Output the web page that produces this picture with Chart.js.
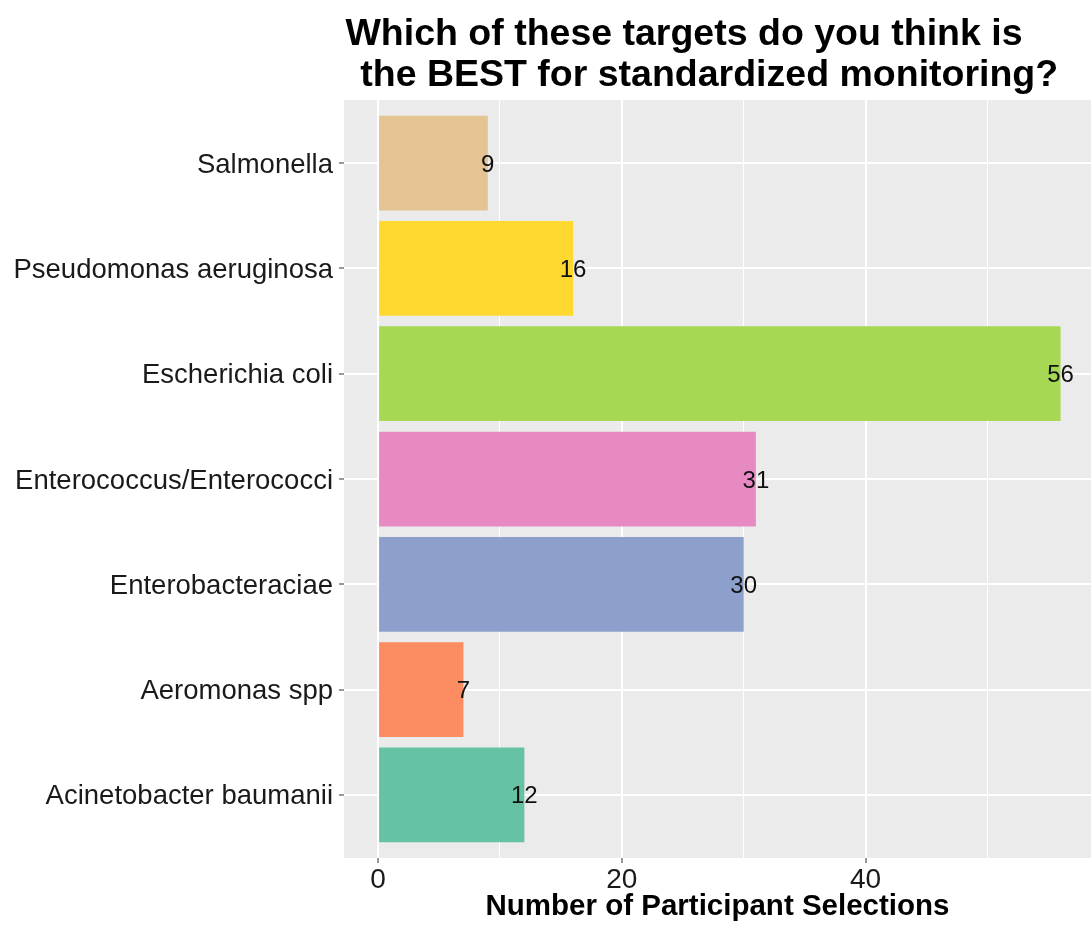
<!DOCTYPE html>
<html>
<head>
<meta charset="utf-8">
<script src="https://cdn.jsdelivr.net/npm/chart.js@4.4.0/dist/chart.umd.min.js"></script>
<style>
  html, body { margin: 0; padding: 0; background: #fff; }
</style>
</head>
<body>
<canvas id="chart" width="1091" height="926"></canvas>
<script>
// rows listed top to bottom
const categories = ['Salmonella', 'Pseudomonas aeruginosa', 'Escherichia coli', 'Enterococcus/Enterococci', 'Enterobacteraciae', 'Aeromonas spp', 'Acinetobacter baumanii'];
const selections = [9, 16, 56, 31, 30, 7, 12];
const barColors = ['#E5C494', '#FFD92F', '#A6D854', '#E78AC3', '#8DA0CB', '#FC8D62', '#66C2A5'];
const xTicks = [0, 20, 40];
const xMinorTicks = [10, 30, 50];
const titleLines = ['Which of these targets do you think is', ' the BEST for standardized monitoring?'];
const xAxisTitle = 'Number of Participant Selections';

const FONT = '"Liberation Sans", Arial, Helvetica, sans-serif';
const n = categories.length;
// first row sits at the top, so it gets the highest position
const rowPos = (i) => n - i;

const points = categories.map((c, i) => ({ x: selections[i], y: rowPos(i) }));

const panelBg = {
  id: 'panelBg',
  beforeDraw(chart) {
    const { ctx, chartArea: a } = chart;
    ctx.save();
    ctx.fillStyle = '#EBEBEB';
    ctx.fillRect(a.left, a.top, a.right - a.left, a.bottom - a.top);
    ctx.restore();
  }
};

const valueLabels = {
  id: 'valueLabels',
  afterDatasetsDraw(chart) {
    const { ctx } = chart;
    const meta = chart.getDatasetMeta(0);
    ctx.save();
    ctx.font = '24px ' + FONT;
    ctx.fillStyle = '#111';
    ctx.textAlign = 'center';
    ctx.textBaseline = 'middle';
    meta.data.forEach((bar, i) => {
      ctx.fillText(String(selections[i]), bar.x, bar.y + 2);
    });
    ctx.restore();
  }
};

const plotTitle = {
  id: 'plotTitle',
  afterDraw(chart) {
    const { ctx } = chart;
    ctx.save();
    ctx.font = 'bold 37.5px ' + FONT;
    ctx.fillStyle = '#000';
    ctx.textAlign = 'center';
    ctx.textBaseline = 'alphabetic';
    ctx.fillText(titleLines[0], 684, 45);
    ctx.fillText(titleLines[1], 704, 86);
    ctx.restore();
  }
};

new Chart(document.getElementById('chart'), {
  type: 'bar',
  data: {
    datasets: [{
      data: points,
      backgroundColor: barColors,
      borderWidth: 0,
      barPercentage: 0.9,
      categoryPercentage: 1
    }]
  },
  options: {
    indexAxis: 'y',
    responsive: false,
    animation: false,
    layout: { padding: { top: 100, right: 0, left: 0, bottom: 0 } },
    plugins: {
      legend: { display: false },
      tooltip: { enabled: false },
      title: { display: false }
    },
    scales: {
      x: {
        type: 'linear',
        position: 'bottom',
        min: -2.8,
        max: 58.5,
        afterBuildTicks: (scale) => {
          scale.ticks = [...xTicks, ...xMinorTicks].sort((a, b) => a - b).map(v => ({ value: v }));
        },
        afterFit: (scale) => { scale.height = 68; },
        border: { display: false },
        grid: {
          color: '#FFFFFF',
          lineWidth: (c) => xTicks.includes(c.tick.value) ? 2 : 1,
          drawTicks: true,
          tickLength: 5,
          tickWidth: 1,
          tickColor: (c) => xTicks.includes(c.tick.value) ? '#333333' : 'rgba(0,0,0,0)'
        },
        ticks: {
          autoSkip: false,
          maxRotation: 0,
          padding: 0,
          color: '#1a1a1a',
          font: { family: FONT, size: 28 },
          callback: (v) => xTicks.includes(v) ? String(v) : ''
        },
        title: {
          display: true,
          text: xAxisTitle,
          color: '#000',
          font: { family: FONT, size: 29.5, weight: 'bold' },
          padding: { top: 0, bottom: 1 }
        }
      },
      y: {
        type: 'linear',
        min: 0.4,
        max: n + 0.6,
        offset: false,
        afterBuildTicks: (scale) => {
          scale.ticks = categories.map((c, i) => ({ value: rowPos(i) }));
        },
        afterFit: (scale) => { scale.width = 344; },
        border: { display: false },
        grid: {
          offset: false,
          color: '#FFFFFF',
          lineWidth: 2,
          drawTicks: true,
          tickLength: 5,
          tickWidth: 1,
          tickColor: '#333333'
        },
        ticks: {
          autoSkip: false,
          padding: 6,
          labelOffset: 2,
          color: '#1a1a1a',
          font: { family: FONT, size: 27.5 },
          callback: (v) => categories[n - v]
        }
      }
    }
  },
  plugins: [panelBg, valueLabels, plotTitle]
});
</script>
</body>
</html>
